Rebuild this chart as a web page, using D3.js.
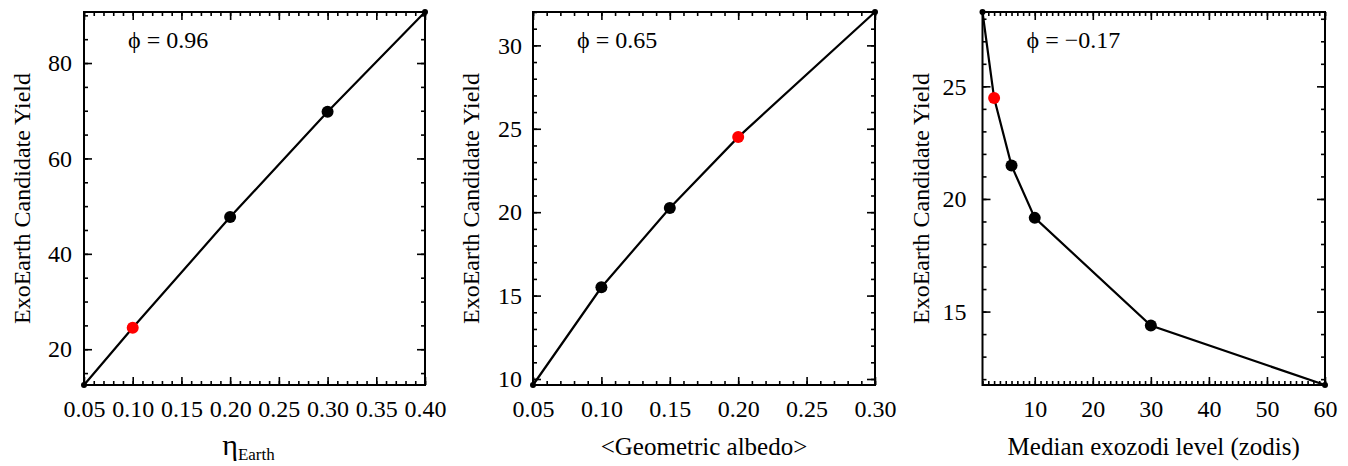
<!DOCTYPE html>
<html>
<head>
<meta charset="utf-8">
<script src="https://cdn.jsdelivr.net/npm/d3@7"></script>
<style>
  html, body { margin: 0; padding: 0; background: #fff; }
  svg, svg text { font-family: "Liberation Serif", "Times New Roman", serif !important; }
  svg { display: block; }
</style>
</head>
<body>
<svg id="chart" width="1348" height="466"></svg>
<script>
// ---------- data ----------
const etaX = [0.05, 0.10, 0.20, 0.30, 0.40];
const etaY = [12.5, 24.5, 47.7, 69.8, 90.7];
const albedoX = [0.05, 0.10, 0.15, 0.20, 0.30];
const albedoY = [9.64, 15.5, 20.25, 24.5, 32.0];
const zodiX = [1, 3, 6, 10, 30, 60];
const zodiY = [28.3, 24.48, 21.48, 19.16, 14.38, 11.74];

const redX = [0.10, 0.20, 3];

const etaXTicks = [0.05, 0.10, 0.15, 0.20, 0.25, 0.30, 0.35, 0.40];
const etaYTicks = [20, 40, 60, 80];
const albedoXTicks = [0.05, 0.10, 0.15, 0.20, 0.25, 0.30];
const albedoYTicks = [10, 15, 20, 25, 30];
const zodiXTicks = [10, 20, 30, 40, 50, 60];
const zodiYTicks = [15, 20, 25];

const phiLabels = ["\u03D5 = 0.96", "\u03D5 = 0.65", "\u03D5 = \u22120.17"];
const yTitle = "ExoEarth Candidate Yield";
const xTitles = ["\u03B7", "<Geometric albedo>", "Median exozodi level (zodis)"];

// ---------- layout ----------
const svg = d3.select("#chart");
const plotTop = 12, plotBottom = 385;
const panels = [
  { left: 84, right: 425, xs: etaX, ys: etaY, xt: etaXTicks, yt: etaYTicks, xMinor: 0.01, yMinor: 5, xFmt: d3.format(".2f"), yFmt: d3.format("d"), yPad: 12 },
  { left: 533, right: 875, xs: albedoX, ys: albedoY, xt: albedoXTicks, yt: albedoYTicks, xMinor: 0.01, yMinor: 1, xFmt: d3.format(".2f"), yFmt: d3.format("d"), yPad: 11 },
  { left: 982.5, right: 1325, xs: zodiX, ys: zodiY, xt: zodiXTicks, yt: zodiYTicks, xMinor: 1, yMinor: 1, xFmt: d3.format("d"), yFmt: d3.format("d"), yPad: 16 }
];

function rangeTicks(domain, step) {
  const lo = Math.ceil(domain[0] / step - 1e-6), hi = Math.floor(domain[1] / step + 1e-6);
  return d3.range(lo, hi + 1).map(i => +(i * step).toFixed(6));
}

panels.forEach((p, i) => {
  const xDom = d3.extent(p.xs), yDom = d3.extent(p.ys);
  const x = d3.scaleLinear().domain(xDom).range([p.left, p.right]);
  const y = d3.scaleLinear().domain(yDom).range([plotBottom, plotTop]);
  const g = svg.append("g");

  const minorX = rangeTicks(xDom, p.xMinor);
  const minorY = rangeTicks(yDom, p.yMinor);

  function styleAxis(sel) {
    sel.attr("font-family", null).attr("font-size", 24);
    sel.select(".domain").remove();
    sel.selectAll("line").attr("stroke", "#000").attr("stroke-width", 1.6);
    sel.selectAll("text").attr("fill", "#000").style("font-size", "24px");
  }

  // minor ticks on four sides
  g.append("g").attr("transform", `translate(0,${plotBottom})`)
    .call(d3.axisBottom(x).tickValues(minorX).tickSize(-4).tickFormat("")).call(styleAxis);
  g.append("g").attr("transform", `translate(0,${plotTop})`)
    .call(d3.axisTop(x).tickValues(minorX).tickSize(-4).tickFormat("")).call(styleAxis);
  g.append("g").attr("transform", `translate(${p.left},0)`)
    .call(d3.axisLeft(y).tickValues(minorY).tickSize(-4).tickFormat("")).call(styleAxis);
  g.append("g").attr("transform", `translate(${p.right},0)`)
    .call(d3.axisRight(y).tickValues(minorY).tickSize(-4).tickFormat("")).call(styleAxis);

  // major ticks
  g.append("g").attr("transform", `translate(0,${plotBottom})`)
    .call(d3.axisBottom(x).tickValues(p.xt).tickSize(-8).tickPadding(15).tickFormat(p.xFmt)).call(styleAxis);
  g.append("g").attr("transform", `translate(0,${plotTop})`)
    .call(d3.axisTop(x).tickValues(p.xt).tickSize(-8).tickFormat("")).call(styleAxis);
  g.append("g").attr("transform", `translate(${p.left},0)`)
    .call(d3.axisLeft(y).tickValues(p.yt).tickSize(-8).tickPadding(p.yPad).tickFormat(p.yFmt)).call(styleAxis);
  g.append("g").attr("transform", `translate(${p.right},0)`)
    .call(d3.axisRight(y).tickValues(p.yt).tickSize(-8).tickFormat("")).call(styleAxis);

  // frame
  g.append("rect").attr("x", p.left).attr("y", plotTop)
    .attr("width", p.right - p.left).attr("height", plotBottom - plotTop)
    .attr("fill", "none").attr("stroke", "#000").attr("stroke-width", 2);

  // data line
  const pts = p.xs.map((v, k) => [v, p.ys[k]]);
  g.append("path").datum(pts)
    .attr("d", d3.line().x(d => x(d[0])).y(d => y(d[1])))
    .attr("fill", "none").attr("stroke", "#000").attr("stroke-width", 2.2);

  // markers
  g.selectAll("circle.pt").data(pts).join("circle")
    .attr("class", "pt")
    .attr("cx", d => x(d[0])).attr("cy", d => y(d[1]))
    .attr("r", (d, k) => (k === 0 || k === pts.length - 1) ? 3 : 6)
    .attr("fill", d => Math.abs(d[0] - redX[i]) < 1e-9 ? "#ff0000" : "#000");

  // phi label
  g.append("text").attr("x", p.left + 44).attr("y", 48)
    .style("font-size", "24px").attr("fill", "#000").text(phiLabels[i]);

  // y title
  g.append("text")
    .attr("transform", `translate(${p.left - 54},${(plotTop + plotBottom) / 2}) rotate(-90)`)
    .attr("text-anchor", "middle").style("font-size", "24px").attr("fill", "#000")
    .text(yTitle);

  // x title
  const xt = g.append("text").attr("x", (p.left + p.right) / 2 - (i === 0 ? 6 : 0)).attr("y", 455)
    .attr("text-anchor", "middle").style("font-size", "25px").attr("fill", "#000");
  if (i === 0) {
    xt.append("tspan").style("font-size", "30px").text(xTitles[0]);
    xt.append("tspan").style("font-size", "17px").attr("dy", 5).text("Earth");
  } else {
    xt.text(xTitles[i]);
  }
});
</script>
</body>
</html>
